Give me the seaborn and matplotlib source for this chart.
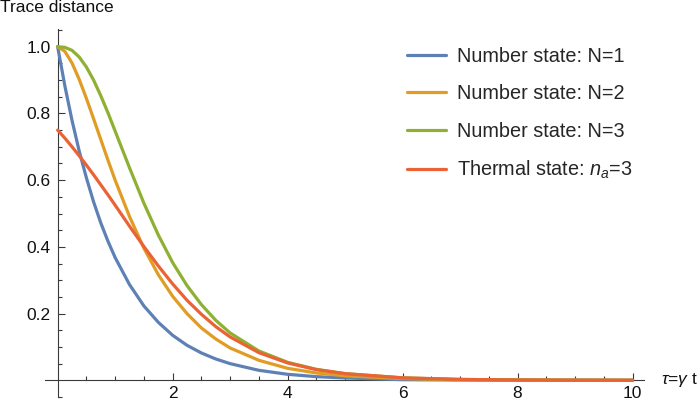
import matplotlib
matplotlib.use("Agg")
import numpy as np
import pandas as pd
import matplotlib.pyplot as plt
import seaborn as sns
from matplotlib.ticker import FixedLocator
from matplotlib.lines import Line2D

# ---- data ----
tau = [0, 0.125, 0.25, 0.375, 0.5, 0.625, 0.75, 0.875, 1, 1.25, 1.5, 1.75, 2,
       2.25, 2.5, 2.75, 3, 3.5, 4, 4.5, 5, 6, 7, 8, 9, 10]
number_n1 = [1.0, 0.883, 0.779, 0.687, 0.607, 0.535, 0.472, 0.417, 0.368, 0.287,
             0.223, 0.174, 0.135, 0.105, 0.082, 0.064, 0.050, 0.030, 0.018, 0.011,
             0.007, 0.002, 0.001, 0.0003, 0.0001, 0.0]
number_n2 = [1.0, 0.986, 0.951, 0.902, 0.845, 0.784, 0.722, 0.660, 0.600, 0.491,
             0.396, 0.317, 0.252, 0.200, 0.157, 0.124, 0.097, 0.060, 0.036, 0.022,
             0.0135, 0.005, 0.0018, 0.0007, 0.0002, 0.0001]
number_n3 = [1.0, 0.998, 0.989, 0.969, 0.939, 0.900, 0.853, 0.802, 0.747, 0.637,
             0.531, 0.436, 0.353, 0.284, 0.227, 0.180, 0.142, 0.088, 0.054, 0.033,
             0.020, 0.0074, 0.0027, 0.001, 0.0004, 0.0001]
thermal_n3 = [0.75, 0.726, 0.700, 0.673, 0.645, 0.616, 0.586, 0.556, 0.525, 0.462,
              0.401, 0.343, 0.289, 0.240, 0.198, 0.161, 0.130, 0.083, 0.052, 0.032,
              0.020, 0.0074, 0.0027, 0.001, 0.0004, 0.0001]

labels = ["Number state: N=1", "Number state: N=2", "Number state: N=3",
          "Thermal state: $n_a$=3"]
colors = ["#5E81B5", "#E19C24", "#8FB032", "#EB6235"]
x_ticks = [2, 4, 6, 8, 10]
y_ticks = [0.2, 0.4, 0.6, 0.8, 1.0]
y_ticklabels = ["0.2", "0.4", "0.6", "0.8", "1.0"]

series = [number_n1, number_n2, number_n3, thermal_n3]
df = pd.concat([pd.DataFrame({"tau": tau, "D": vals, "state": lab})
                for vals, lab in zip(series, labels)], ignore_index=True)

# ---- style ----
sns.set_theme(style="white")
plt.rcParams["font.family"] = ["Liberation Sans", "DejaVu Sans"]
plt.rcParams["mathtext.fontset"] = "custom"
plt.rcParams["mathtext.rm"] = "Liberation Sans"
plt.rcParams["mathtext.it"] = "Liberation Sans:italic"

fig = plt.figure(figsize=(6.98, 4.04), dpi=100)
ax = fig.add_axes([45 / 698, 7 / 404, 599 / 698, 368 / 404])

lw = 2.3
sns.lineplot(data=df, x="tau", y="D", hue="state", hue_order=labels,
             palette=colors, linewidth=lw, estimator=None, ax=ax, legend=False)

ax.set_xlim(-0.22, 10.2)
ax.set_ylim(-0.05, 1.053)
ax.set_xlabel("")
ax.set_ylabel("")

for s in ["top", "right"]:
    ax.spines[s].set_visible(False)
ax.spines["left"].set_position(("data", 0))
ax.spines["bottom"].set_position(("data", 0))
axis_col = "#3a3a3a"
for s in ["left", "bottom"]:
    ax.spines[s].set_color(axis_col)
    ax.spines[s].set_linewidth(0.8)
    ax.spines[s].set_zorder(0.5)

ax.set_xticks(x_ticks)
ax.set_xticklabels([str(t) for t in x_ticks])
ax.set_yticks(y_ticks)
ax.set_yticklabels(y_ticklabels)
ax.xaxis.set_minor_locator(FixedLocator([v / 2 for v in range(1, 21) if v % 4 != 0]))
ax.yaxis.set_minor_locator(FixedLocator([v / 20 for v in range(-1, 22) if v % 4 != 0]))
ax.tick_params(which="both", direction="in", color=axis_col, width=0.8,
               bottom=True, left=True, top=False, right=False,
               labelsize=12.5, labelcolor="#111111")
ax.tick_params(which="major", length=5)
ax.tick_params(which="minor", length=3)
ax.tick_params(axis="x", which="major", pad=4)
ax.tick_params(axis="y", which="major", pad=5)

fig.text(0.0, 1 - 8 / 404, "Trace distance", ha="left", va="center",
         fontsize=12.5, color="#111111")
fig.text(661 / 698, 1 - 380 / 404, r"$\tau$=$\gamma$ t", ha="left", va="center",
         fontsize=12.5, color="#111111")

handles = [Line2D([], [], color=c, lw=lw) for c in colors]
ax.legend(handles, labels, loc="upper left", bbox_to_anchor=(407 / 698, 1 - 47 / 404),
          bbox_transform=fig.transFigure, frameon=False, fontsize=14.3,
          handlelength=1.95, handletextpad=0.55, labelspacing=0.92,
          borderpad=0, borderaxespad=0)

fig.savefig("out.png", dpi=100)
